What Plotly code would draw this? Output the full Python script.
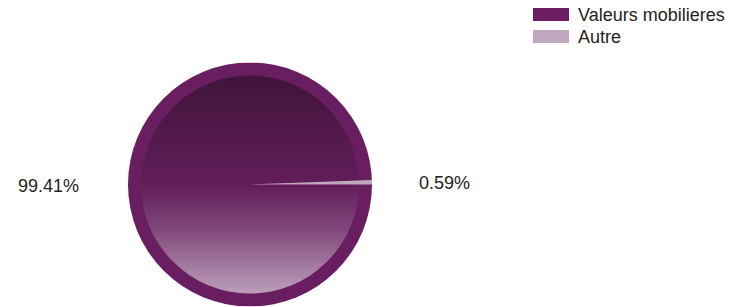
import base64
import plotly.graph_objects as go

labels = ["Valeurs mobilieres", "Autre"]
values = [99.41, 0.59]
colors = ["#6b1f62", "#c0a9be"]

W, H = 731, 307
cx, cy, r = 250, 184.5, 122


def px(x):
    return x / W


def py(y):
    return 1 - y / H


svg = '''<svg xmlns="http://www.w3.org/2000/svg" width="244" height="244" viewBox="0 0 244 244">
<defs><linearGradient id="g" x1="0" y1="0" x2="0" y2="1">
<stop offset="0" stop-color="#40143a"/>
<stop offset="0.5" stop-color="#621d5a"/>
<stop offset="0.7" stop-color="#80477a"/>
<stop offset="1" stop-color="#bc9eba"/>
</linearGradient></defs>
<circle cx="122" cy="122" r="122" fill="#6a1e62"/>
<circle cx="122" cy="122" r="109" fill="url(#g)"/>
</svg>'''
src = "data:image/svg+xml;base64," + base64.b64encode(svg.encode()).decode()

fig = go.Figure()
fig.add_trace(go.Pie(
    labels=labels, values=values, sort=False, direction="clockwise", rotation=90,
    marker=dict(colors=["rgba(0,0,0,0)", colors[1]], line=dict(width=0)),
    textinfo="none", showlegend=False,
    domain=dict(x=[(cx - r) / W, (cx + r) / W], y=[1 - (cy + r) / H, 1 - (cy - r) / H]),
))

fig.add_layout_image(dict(
    source=src, xref="paper", yref="paper",
    x=(cx - r) / W, y=1 - (cy - r) / H, sizex=2 * r / W, sizey=2 * r / H,
    xanchor="left", yanchor="top", sizing="stretch", layer="below",
))

font = dict(family="Liberation Sans, Arial, sans-serif", size=18, color="#222222")
pct = [f"{v:.2f}%" for v in values]
fig.add_annotation(x=px(48), y=py(186), xref="paper", yref="paper", text=pct[0],
                   showarrow=False, font=font, xanchor="center", yanchor="middle")
fig.add_annotation(x=px(444), y=py(183), xref="paper", yref="paper", text=pct[1],
                   showarrow=False, font=font, xanchor="center", yanchor="middle")

# manual legend
for i, (lab, col) in enumerate(zip(labels, colors)):
    y0 = 8 + i * 22
    fig.add_shape(type="rect", xref="paper", yref="paper",
                  x0=px(533), x1=px(569), y0=py(y0 + 13), y1=py(y0),
                  fillcolor=col, line=dict(width=0))
    fig.add_annotation(x=px(576), y=py(y0 + 6.5), xref="paper", yref="paper", text=lab,
                       showarrow=False, font=font, xanchor="left", yanchor="middle")

fig.update_layout(width=W, height=H, margin=dict(l=0, r=0, t=0, b=0),
                  paper_bgcolor="white", plot_bgcolor="white")
fig.write_html("out.html", config={"displayModeBar": False},
               post_script="document.body.style.margin='0';document.body.style.overflow='hidden';")
